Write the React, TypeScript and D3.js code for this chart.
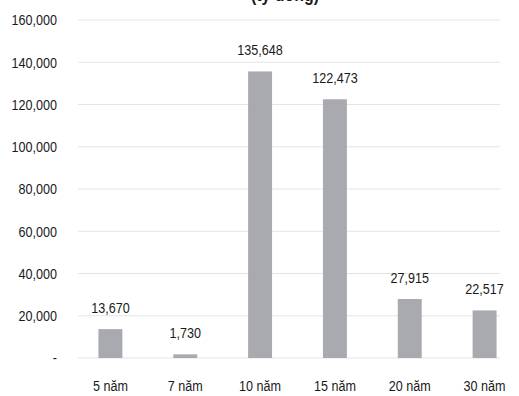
import React from "react";
import * as d3 from "d3";

const categories = ["5 năm", "7 năm", "10 năm", "15 năm", "20 năm", "30 năm"];
const values = [13670, 1730, 135648, 122473, 27915, 22517];
const yTicks = [0, 20000, 40000, 60000, 80000, 100000, 120000, 140000, 160000];
const title = "(tỷ đồng)";

const W = 519;
const H = 396;
const FONT = "'Liberation Sans', Arial, sans-serif";
const SX = 0.84;

function NText({ x, y, anchor, children, size = 15, weight = "normal", dy }: any) {
  return (
    <g transform={`translate(${x},${y}) scale(${SX},1)`}>
      <text x={0} y={0} dy={dy} textAnchor={anchor} fontSize={size} fontWeight={weight} fill="#1a1a1a">{children}</text>
    </g>
  );
}

export default function App() {
  const y = d3.scaleLinear().domain([0, 160000]).range([358, 20]);
  const x = d3.scaleBand<string>().domain(categories).range([73, 522]).paddingInner(0.68).paddingOuter(0.34);
  const fmt = d3.format(",");
  return (
    <svg width={W} height={H} style={{ position: "absolute", left: 0, top: 0, background: "#fff" }} fontFamily={FONT}>
      <NText x={285} y={1} anchor="middle" size={19} weight="bold">{title}</NText>
      {yTicks.map((t) => (
        <g key={t}>
          <line x1={78} x2={500} y1={y(t)} y2={y(t)} stroke="#e4e4e4" strokeWidth={1} />
          <NText x={57} y={y(t)} dy="0.35em" anchor="end">{t === 0 ? "-" : fmt(t)}</NText>
        </g>
      ))}
      {categories.map((c, i) => {
        const bx = x(c)!;
        const bw = x.bandwidth();
        const top = y(values[i]);
        return (
          <g key={c}>
            <rect x={bx} y={top} width={bw} height={Math.max(1.5, y(0) - top)} fill="#a8aaaf" />
            <NText x={bx + bw / 2} y={top - 16} anchor="middle">{fmt(values[i])}</NText>
            <NText x={bx + bw / 2} y={391} anchor="middle">{c}</NText>
          </g>
        );
      })}
    </svg>
  );
}
